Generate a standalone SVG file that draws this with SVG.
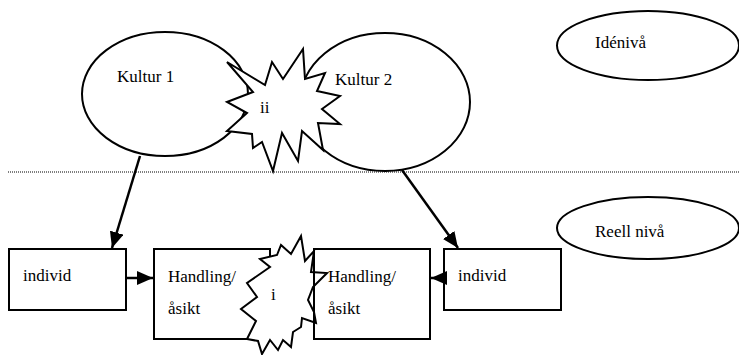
<svg xmlns="http://www.w3.org/2000/svg" width="739" height="355" viewBox="0 0 739 355">
<style>
.shape{fill:#fff;stroke:#000;stroke-width:2}
.open{fill:none;stroke:#000;stroke-width:2}
.t{font-family:"Liberation Serif",Tinos,"Times New Roman",Times,"DejaVu Serif",serif;font-size:17px;fill:#000}
.arrow{stroke:#000;stroke-width:2.5;fill:none}
</style>
<defs>
<marker id="ah" viewBox="0 0 16 14" refX="16" refY="7" markerWidth="16" markerHeight="14" markerUnits="userSpaceOnUse" orient="auto">
<path d="M0,0 L16,7 L0,14 z" fill="#000"/>
</marker>
</defs>
<line x1="8" y1="172" x2="739" y2="172" stroke="#000" stroke-width="1.2" stroke-dasharray="1 1"/>
<g id="kultur1">
<ellipse class="shape" cx="165" cy="94" rx="83" ry="62"/>
<text class="t" x="117" y="82" font-family="Liberation Serif, serif">Kultur 1</text>
</g>
<g id="kultur2">
<ellipse class="shape" cx="385" cy="102" rx="85" ry="69"/>
<text class="t" x="335" y="85">Kultur 2</text>
</g>
<g id="konflikt-ii">
<polygon class="shape" points="227,62 265,85 272,62 283,79 303,49 305,79 325,73 317,91 340,96 322,109 340,124 318,123 323,150 302,131 298,161 282,133 273,171 262,142 253,148 252,134 227,131 247,113 227,102 253,92"/>
<text class="t" x="260" y="113">ii</text>
</g>
<g id="idenniva">
<ellipse class="shape" cx="648" cy="45.5" rx="91" ry="34.5"/>
<text class="t" x="595" y="48">Idénivå</text>
</g>
<g id="reell-niva">
<ellipse class="shape" cx="648" cy="228" rx="91" ry="31"/>
<text class="t" x="595" y="237">Reell nivå</text>
</g>
<g id="individ1">
<rect class="shape" x="9" y="249" width="117" height="61"/>
<text class="t" x="23" y="281">individ</text>
</g>
<g id="handling1">
<rect class="shape" x="154" y="249" width="116" height="90"/>
<text class="t" x="168" y="282">Handling/</text>
<text class="t" x="168" y="314">åsikt</text>
</g>
<g id="konflikt-i">
<polygon class="shape" points="301,236 305,261 314,251 311,272 327,273 313,287 308,300 314,312 316,323 302,318 301,327 293,332 291,347 283,340 278,350 270,340 262,354 258,341 247,339 256,321 241,309 257,297 247,283 270,267 260,259 277,255 281,245 291,254"/>
<text class="t" x="271" y="300">i</text>
</g>
<g id="handling2">
<rect class="open" x="314" y="249" width="116" height="90"/>
<text class="t" x="328" y="282">Handling/</text>
<text class="t" x="328" y="314">åsikt</text>
</g>
<g id="individ2">
<rect class="shape" x="444" y="249" width="117" height="61"/>
<text class="t" x="458" y="281">individ</text>
</g>
<g id="connectors">
<line class="arrow" x1="140" y1="156" x2="112" y2="248" marker-end="url(#ah)"/>
<line class="arrow" x1="402" y1="170" x2="458" y2="248" marker-end="url(#ah)"/>
<line class="arrow" x1="126" y1="278" x2="153" y2="278" marker-end="url(#ah)"/>
<line class="arrow" x1="444" y1="278" x2="431" y2="278" marker-end="url(#ah)"/>
</g>
</svg>
